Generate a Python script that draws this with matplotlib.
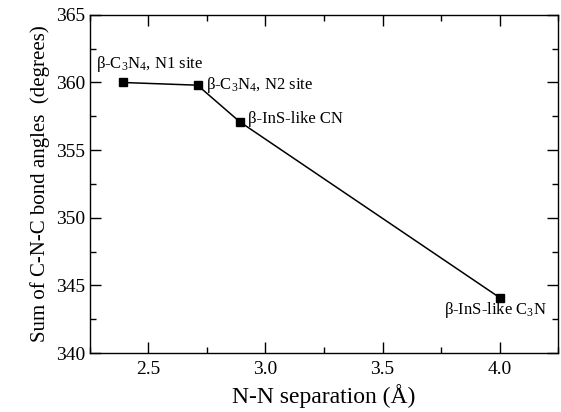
import matplotlib
matplotlib.use('Agg')
import matplotlib.pyplot as plt
from matplotlib.ticker import MultipleLocator

plt.rcParams['font.family'] = ['Liberation Serif', 'DejaVu Serif']
plt.rcParams['mathtext.fontset'] = 'custom'
plt.rcParams['mathtext.rm'] = 'Liberation Serif'
plt.rcParams['mathtext.it'] = 'Liberation Serif:italic'

separation = [2.39, 2.71, 2.89, 4.00]
angle_sum = [360.0, 359.8, 357.1, 344.1]
labels = [r'β-C$_3$N$_4$, N1 site', r'β-C$_3$N$_4$, N2 site',
          'β-InS-like CN', r'β-InS-like C$_3$N']

fig = plt.figure(figsize=(5.61, 4.12), dpi=100)
ax = fig.add_axes([0.160, 0.143, 0.835, 0.821])
ax.plot(separation, angle_sum, color='black', lw=1.1, marker='s',
        markersize=6.2, markerfacecolor='black', markeredgecolor='black')

# label placement (offset in points, alignment)
offsets = [((-19, 6), 'left', 'bottom'),
           ((6, 0), 'left', 'center'),
           ((6, 2), 'left', 'center'),
           ((34, -9), 'right', 'center')]
for x, y, text, (off, ha, va) in zip(separation, angle_sum, labels, offsets):
    ax.annotate(text, (x, y), xytext=off, textcoords='offset points',
                ha=ha, va=va, fontsize=12)

ax.set_xlim(2.25, 4.25)
ax.set_ylim(340, 365)
ax.xaxis.set_major_locator(MultipleLocator(0.5))
ax.xaxis.set_minor_locator(MultipleLocator(0.25))
ax.yaxis.set_major_locator(MultipleLocator(5))
ax.yaxis.set_minor_locator(MultipleLocator(2.5))
ax.tick_params(which='both', direction='in', top=True, right=True,
               labelsize=14, width=1)
ax.tick_params(which='major', length=8)
ax.tick_params(which='minor', length=4)
ax.tick_params(axis='x', pad=6)
for s in ax.spines.values():
    s.set_linewidth(1)

ax.set_xlabel('N-N separation (Å)', fontsize=17, labelpad=4)
ax.set_ylabel('Sum of C-N-C bond angles  (degrees)', fontsize=15)

fig.savefig('out.png', dpi=100)
